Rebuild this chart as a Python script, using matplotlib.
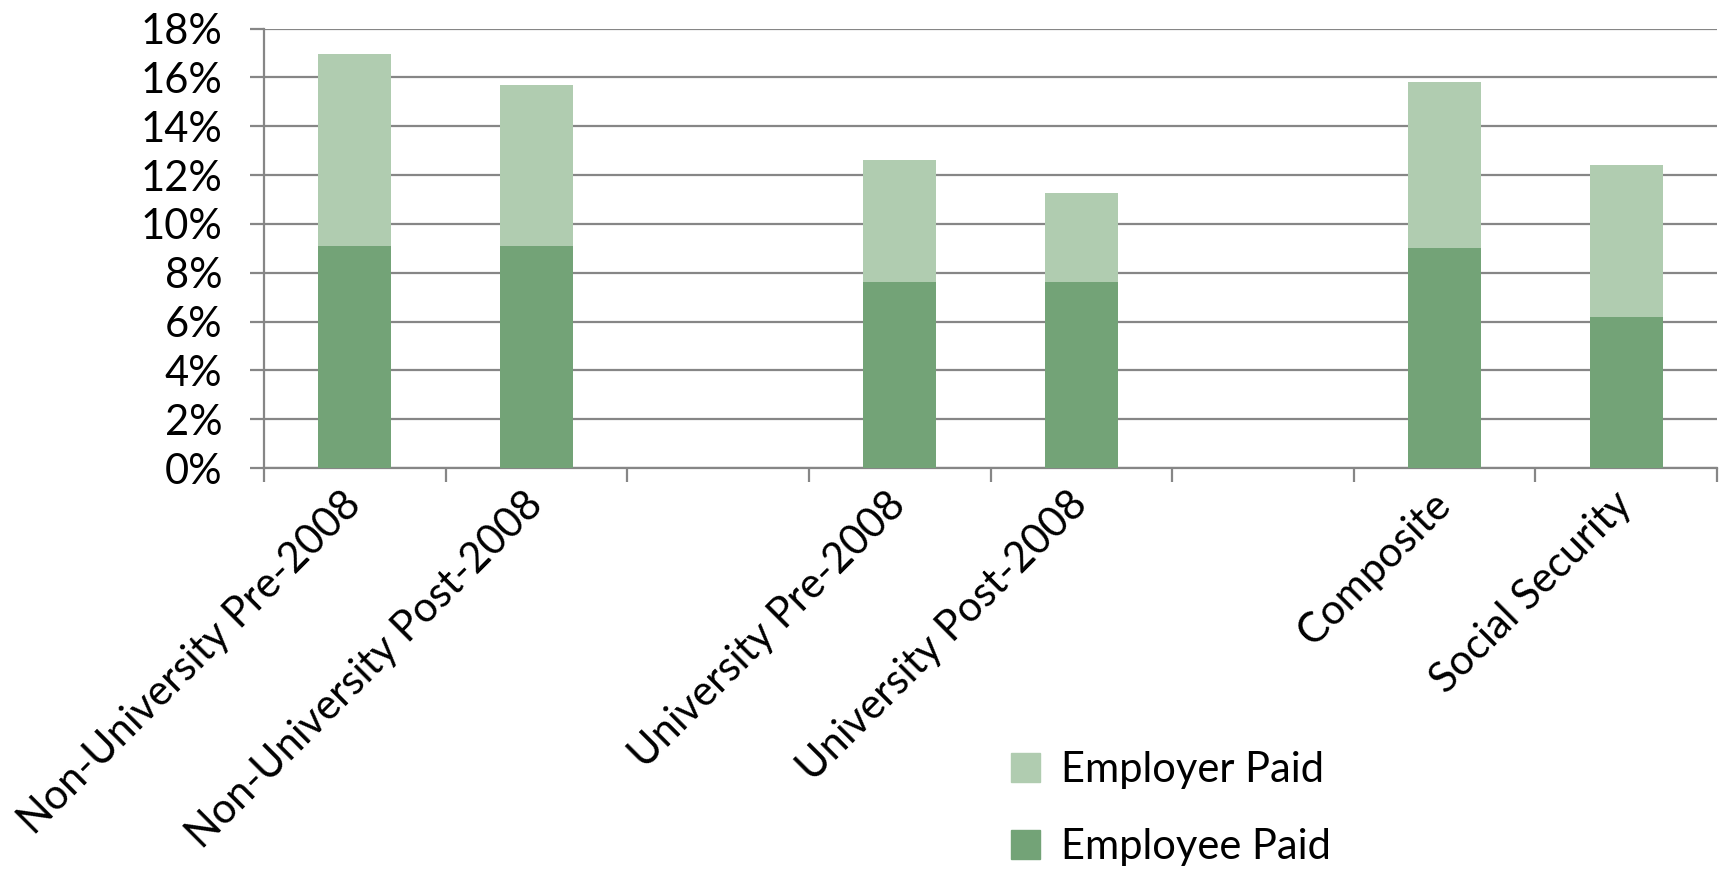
import numpy as np
import matplotlib
matplotlib.use("Agg")
import matplotlib.pyplot as plt
from matplotlib.patches import Patch

plt.rcParams['font.family'] = ['Lato', 'DejaVu Sans']

# Contribution rates (% of salary); blank slots keep the gaps between groups
categories = ["Non-University Pre-2008", "Non-University Post-2008", "",
              "University Pre-2008", "University Post-2008", "",
              "Composite", "Social Security"]
employee_paid = [9.1, 9.1, 0, 7.6, 7.6, 0, 9.0, 6.2]
employer_paid = [7.85, 6.58, 0, 5.03, 3.65, 0, 6.83, 6.2]

dark_green = "#73A377"
light_green = "#B0CCB0"
grid_grey = "#868686"

fig = plt.figure(figsize=(17.26, 8.83), dpi=100)
ax = fig.add_axes([264 / 1726, 1 - 468 / 883, (1717 - 264) / 1726, (468 - 28.6) / 883])

x = np.arange(len(categories))
ax.bar(x, employee_paid, width=0.4, color=dark_green, zorder=3)
ax.bar(x, employer_paid, width=0.4, bottom=employee_paid, color=light_green, zorder=3)

ax.set_xlim(-0.5, len(categories) - 0.5)
ax.set_ylim(0, 18)
ax.set_yticks(np.arange(0, 19, 2))
ax.set_yticklabels([f"{v}%" for v in range(0, 19, 2)], fontsize=30)
ax.yaxis.grid(True, color=grid_grey, linewidth=1.6, zorder=0)

# category boundaries as major ticks, names on minor ticks
ax.set_xticks(np.arange(-0.5, len(categories), 1))
ax.set_xticklabels([])
ax.set_xticks(x, minor=True)
ax.set_xticklabels(categories, minor=True, rotation=45, ha="right",
                   va="center", rotation_mode="anchor", fontsize=30)

ax.tick_params(axis="x", which="major", length=10, width=1.6, color=grid_grey)
ax.tick_params(axis="x", which="minor", length=0, pad=22)
ax.tick_params(axis="y", length=10, width=1.6, color=grid_grey, pad=20)

for side in ["top", "right"]:
    ax.spines[side].set_visible(False)
for side in ["left", "bottom"]:
    ax.spines[side].set_color(grid_grey)
    ax.spines[side].set_linewidth(1.6)

handles = [Patch(color=light_green, label="Employer Paid"),
           Patch(color=dark_green, label="Employee Paid")]
fig.legend(handles=handles, loc="upper left", bbox_to_anchor=(990 / 1726, 1 - 730 / 883),
           frameon=False, fontsize=30, handlelength=0.7, handleheight=0.7,
           handletextpad=0.5, labelspacing=0.95, borderpad=0)

fig.savefig("out.png", dpi=100)
